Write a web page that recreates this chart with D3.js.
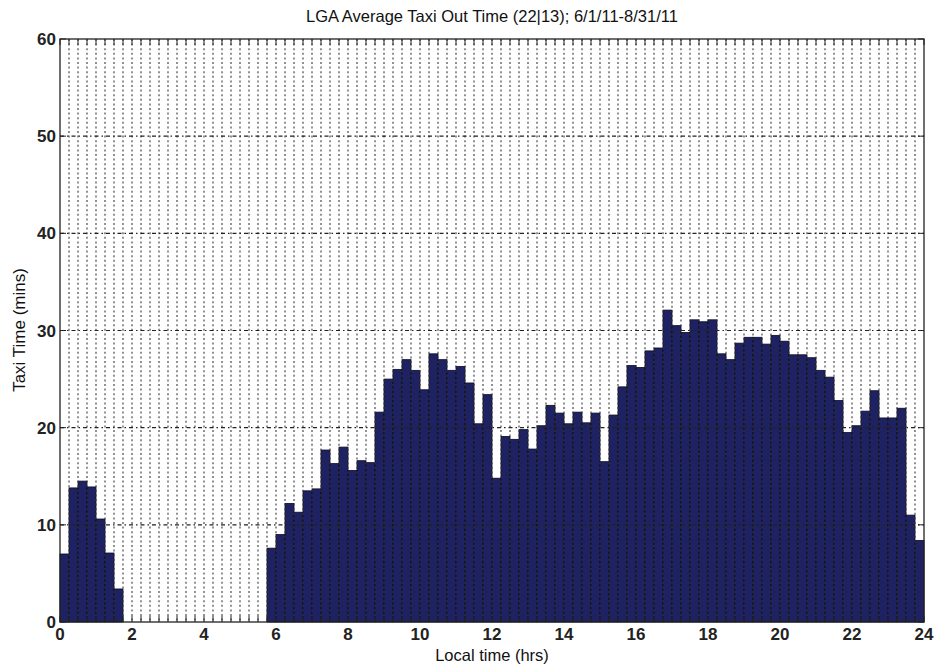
<!DOCTYPE html>
<html><head><meta charset="utf-8">
<script src="https://cdn.jsdelivr.net/npm/d3@7"></script>
<style>body{margin:0;background:#fff}svg{display:block}text{font-family:"Liberation Sans",Arial,sans-serif}</style>
</head><body><svg id="c" width="940" height="669"></svg>
<script>
const title = "LGA Average Taxi Out Time (22|13); 6/1/11-8/31/11";
const xLabel = "Local time (hrs)";
const yLabel = "Taxi Time (mins)";
const binStarts = d3.range(96).map(i => i * 0.25);
const taxiOut = [
  7.0, 13.8, 14.5, 13.9, 10.6, 7.1, 3.4, 0,
  0, 0, 0, 0, 0, 0, 0, 0,
  0, 0, 0, 0, 0, 0, 0, 7.6,
  9.0, 12.2, 11.3, 13.5, 13.7, 17.7, 16.3, 18.0,
  15.6, 16.6, 16.4, 21.6, 25.0, 26.0, 27.0, 25.9,
  23.9, 27.6, 27.0, 25.9, 26.3, 24.6, 20.4, 23.4,
  14.8, 19.1, 18.8, 19.8, 17.8, 20.2, 22.3, 21.5,
  20.4, 21.6, 20.5, 21.5, 16.5, 21.3, 24.2, 26.4,
  26.2, 27.9, 28.2, 32.1, 30.5, 29.8, 31.1, 30.9,
  31.1, 27.6, 27.0, 28.7, 29.3, 29.3, 28.6, 29.5,
  28.9, 27.5, 27.5, 27.2, 25.9, 25.2, 22.8, 19.5,
  20.2, 21.7, 23.8, 21.0, 21.0, 22.0, 11.0, 8.4
];
const xTicks = [0, 2, 4, 6, 8, 10, 12, 14, 16, 18, 20, 22, 24];
const yTicks = [0, 10, 20, 30, 40, 50, 60];

const svg = d3.select("#c");
const L = 60, R = 924, T = 39, B = 622;
const x = d3.scaleLinear().domain([0, 24]).range([L, R]);
const y = d3.scaleLinear().domain([0, 60]).range([B, T]);
const minor = d3.range(0, 24.001, 0.25);

// bars
svg.append("g").selectAll("rect").data(binStarts).join("rect")
  .attr("x", d => x(d)).attr("width", d => x(d + 0.25) - x(d))
  .attr("y", (d, i) => y(taxiOut[i])).attr("height", (d, i) => y(0) - y(taxiOut[i]))
  .attr("fill", "#1f2262").attr("stroke", "#0b0c22").attr("stroke-width", 0.8);

// vertical dotted grid (on top)
svg.append("g").selectAll("line").data(minor.slice(1, -1)).join("line")
  .attr("x1", d => x(d)).attr("x2", d => x(d)).attr("y1", T).attr("y2", B)
  .attr("stroke", "#3a3a3a").attr("stroke-width", 1.3).attr("stroke-dasharray", "2,2.6").attr("opacity", 0.85);
// horizontal grid
svg.append("g").selectAll("line").data(yTicks.slice(1, -1)).join("line")
  .attr("x1", L).attr("x2", R).attr("y1", d => y(d)).attr("y2", d => y(d))
  .attr("stroke", "#222").attr("stroke-width", 1.1).attr("stroke-dasharray", "4,3,1.5,3");

// axes box
svg.append("rect").attr("x", L).attr("y", T).attr("width", R - L).attr("height", B - T)
  .attr("fill", "none").attr("stroke", "#222").attr("stroke-width", 1.3);

// minor ticks bottom & top
const tg = svg.append("g").attr("stroke", "#222").attr("stroke-width", 1);
tg.selectAll(".tb").data(minor).join("line").attr("class", "tb")
  .attr("x1", d => x(d)).attr("x2", d => x(d)).attr("y1", B).attr("y2", B - 6);
tg.selectAll(".tt").data(minor).join("line").attr("class", "tt")
  .attr("x1", d => x(d)).attr("x2", d => x(d)).attr("y1", T).attr("y2", T + 6);
tg.selectAll(".yl").data(yTicks).join("line").attr("class", "yl")
  .attr("x1", L).attr("x2", L + 6).attr("y1", d => y(d)).attr("y2", d => y(d));
tg.selectAll(".yr").data(yTicks).join("line").attr("class", "yr")
  .attr("x1", R).attr("x2", R - 6).attr("y1", d => y(d)).attr("y2", d => y(d));

// tick labels
svg.append("g").selectAll("text").data(xTicks).join("text")
  .attr("x", d => x(d)).attr("y", B + 18).attr("text-anchor", "middle")
  .attr("font-size", 17).attr("font-weight", "bold").attr("fill", "#222").text(d => d);
svg.append("g").selectAll("text").data(yTicks).join("text")
  .attr("x", L - 4).attr("y", d => y(d) + 6).attr("text-anchor", "end")
  .attr("font-size", 17).attr("font-weight", "bold").attr("fill", "#222").text(d => d);

svg.append("text").attr("x", 492).attr("y", 22).attr("text-anchor", "middle")
  .attr("font-size", 16.5).attr("fill", "#111").text(title);
svg.append("text").attr("x", x(12)).attr("y", 661).attr("text-anchor", "middle")
  .attr("font-size", 16.5).attr("fill", "#111").text(xLabel);
svg.append("text").attr("transform", "translate(25,330) rotate(-90)").attr("text-anchor", "middle")
  .attr("font-size", 17).attr("fill", "#111").text(yLabel);
</script></body></html>
